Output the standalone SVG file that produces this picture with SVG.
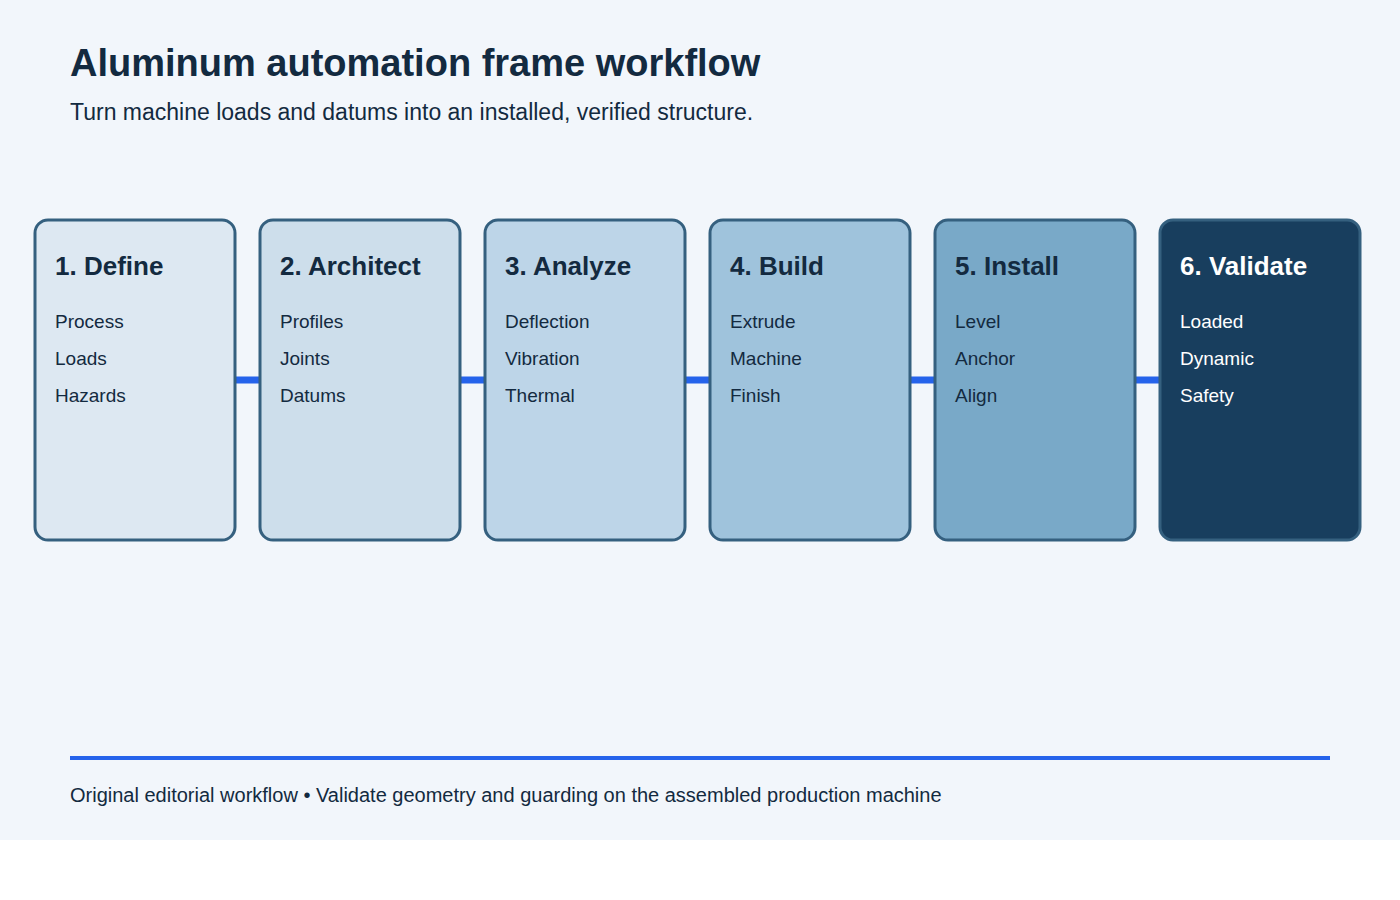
<svg xmlns="http://www.w3.org/2000/svg" width="1400" height="900" viewBox="0 0 1400 900">
  <defs>
    <style>
      .title { font-family: "Liberation Sans", Arial, sans-serif; font-size: 38px; font-weight: bold; fill: #132a40; }
      .sub { font-family: "Liberation Sans", Arial, sans-serif; font-size: 23px; fill: #132a40; }
      .card { stroke: #35607f; stroke-width: 3; }
      .ct { font-family: "Liberation Sans", Arial, sans-serif; font-size: 26px; font-weight: bold; fill: #132a40; }
      .ci { font-family: "Liberation Sans", Arial, sans-serif; font-size: 19px; fill: #132a40; }
      .light { fill: #ffffff; }
      .conn { stroke: #2563eb; stroke-width: 7; fill: none; }
      .foot { font-family: "Liberation Sans", Arial, sans-serif; font-size: 20px; fill: #132a40; }
    </style>
  </defs>
  <rect x="0" y="0" width="1400" height="900" fill="#ffffff"/>
  <rect x="0" y="0" width="1400" height="840" fill="#f2f6fb"/>
  <text class="title" x="70" y="76">Aluminum automation frame workflow</text>
  <text class="sub" x="70" y="120">Turn machine loads and datums into an installed, verified structure.</text>

  <g id="connectors">
    <line class="conn" x1="235" y1="380" x2="260" y2="380"/>
    <line class="conn" x1="460" y1="380" x2="485" y2="380"/>
    <line class="conn" x1="685" y1="380" x2="710" y2="380"/>
    <line class="conn" x1="910" y1="380" x2="935" y2="380"/>
    <line class="conn" x1="1135" y1="380" x2="1160" y2="380"/>
  </g>

  <g id="step1">
    <rect class="card" x="35" y="220" width="200" height="320" rx="13" fill="#dde8f2"/>
    <text class="ct" x="55" y="275">1. Define</text>
    <text class="ci" x="55" y="328">Process</text>
    <text class="ci" x="55" y="365">Loads</text>
    <text class="ci" x="55" y="402">Hazards</text>
  </g>
  <g id="step2">
    <rect class="card" x="260" y="220" width="200" height="320" rx="13" fill="#cddeeb"/>
    <text class="ct" x="280" y="275">2. Architect</text>
    <text class="ci" x="280" y="328">Profiles</text>
    <text class="ci" x="280" y="365">Joints</text>
    <text class="ci" x="280" y="402">Datums</text>
  </g>
  <g id="step3">
    <rect class="card" x="485" y="220" width="200" height="320" rx="13" fill="#bdd5e8"/>
    <text class="ct" x="505" y="275">3. Analyze</text>
    <text class="ci" x="505" y="328">Deflection</text>
    <text class="ci" x="505" y="365">Vibration</text>
    <text class="ci" x="505" y="402">Thermal</text>
  </g>
  <g id="step4">
    <rect class="card" x="710" y="220" width="200" height="320" rx="13" fill="#9fc3dc"/>
    <text class="ct" x="730" y="275">4. Build</text>
    <text class="ci" x="730" y="328">Extrude</text>
    <text class="ci" x="730" y="365">Machine</text>
    <text class="ci" x="730" y="402">Finish</text>
  </g>
  <g id="step5">
    <rect class="card" x="935" y="220" width="200" height="320" rx="13" fill="#79a9c8"/>
    <text class="ct" x="955" y="275">5. Install</text>
    <text class="ci" x="955" y="328">Level</text>
    <text class="ci" x="955" y="365">Anchor</text>
    <text class="ci" x="955" y="402">Align</text>
  </g>
  <g id="step6">
    <rect class="card" x="1160" y="220" width="200" height="320" rx="13" fill="#183e5e"/>
    <text class="ct light" x="1180" y="275">6. Validate</text>
    <text class="ci light" x="1180" y="328">Loaded</text>
    <text class="ci light" x="1180" y="365">Dynamic</text>
    <text class="ci light" x="1180" y="402">Safety</text>
  </g>

  <rect x="70" y="756" width="1260" height="4" fill="#2563eb"/>
  <text class="foot" x="70" y="802">Original editorial workflow • Validate geometry and guarding on the assembled production machine</text>
</svg>
